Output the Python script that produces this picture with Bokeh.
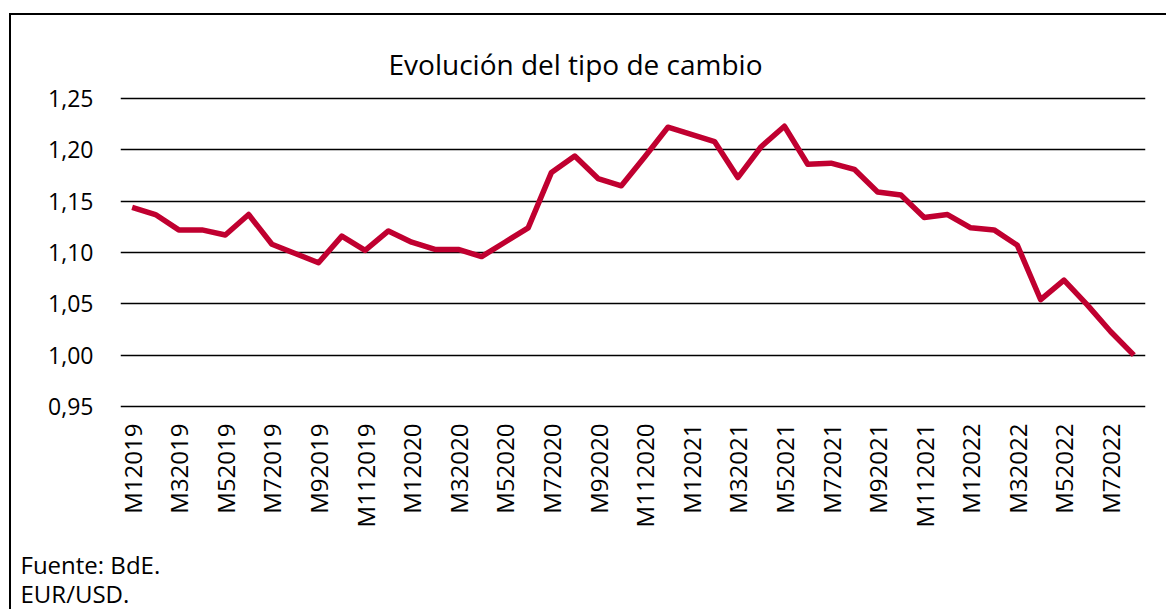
import math
from bokeh.plotting import figure
from bokeh.layouts import column
from bokeh.models import Range1d, FixedTicker, Label
from bokeh.embed import file_html
from bokeh.resources import INLINE

# ---- data ----
months = [
    "M12019", "M22019", "M32019", "M42019", "M52019", "M62019", "M72019", "M82019",
    "M92019", "M102019", "M112019", "M122019",
    "M12020", "M22020", "M32020", "M42020", "M52020", "M62020", "M72020", "M82020",
    "M92020", "M102020", "M112020", "M122020",
    "M12021", "M22021", "M32021", "M42021", "M52021", "M62021", "M72021", "M82021",
    "M92021", "M102021", "M112021", "M122021",
    "M12022", "M22022", "M32022", "M42022", "M52022", "M62022", "M72022", "M82022",
]
eur_usd = [
    1.144, 1.137, 1.122, 1.122, 1.117, 1.137, 1.108, 1.099, 1.090, 1.116, 1.102, 1.121,
    1.110, 1.103, 1.103, 1.096, 1.110, 1.124, 1.178, 1.194, 1.172, 1.165, 1.193, 1.222,
    1.215, 1.208, 1.173, 1.203, 1.223, 1.186, 1.187, 1.181, 1.159, 1.156, 1.134, 1.137,
    1.124, 1.122, 1.107, 1.054, 1.073, 1.049, 1.023, 1.000,
]
y_ticks = [0.95, 1.00, 1.05, 1.10, 1.15, 1.20, 1.25]
y_tick_labels = ["0,95", "1,00", "1,05", "1,10", "1,15", "1,20", "1,25"]
title_text = "Evolución del tipo de cambio"
notes = ["Fuente: BdE.", "EUR/USD."]

FONT = "Open Sans"
positions = list(range(len(months)))

# ---- layout (page pixels) ----
CX, CY = 11, 15            # page position of content (inside the frame border)
W = 1155
FRAME_L, FRAME_R = 120, 1145
FRAME_T, FRAME_B = CY, 409  # frame reaches the top so the title can sit inside it
G_TOP, G_BOT = 98, 406      # pixel rows of the top / bottom gridlines
MAIN_BOTTOM = 545
NOTES_BOTTOM = 609
NOTES_SHIFT = 10.5          # observed downward offset of the notes strip

BL = FRAME_L - CX
FW = FRAME_R - FRAME_L
BR = W - BL - FW
HP = MAIN_BOTTOM - CY
FH = FRAME_B - FRAME_T
BB = HP - FH

x0, x1 = -0.5, len(months) - 0.5
pu = (G_BOT - G_TOP) / (y_ticks[-1] - y_ticks[0])
y_end = y_ticks[-1] + (G_TOP - FRAME_T) / pu
y_start = y_ticks[0] - (FRAME_B - G_BOT) / pu

def px_to_x(px):
    return x0 + (px - FRAME_L) * (x1 - x0) / FW

def py_to_y(py):
    return y_end - (py - FRAME_T) / pu

p = figure(
    width=W, height=HP,
    output_backend="svg", toolbar_location=None,
    x_range=Range1d(x0, x1), y_range=Range1d(y_start, y_end),
    min_border_left=BL, min_border_right=BR, min_border_top=0, min_border_bottom=BB,
    outline_line_color=None, frame_align=False,
)
p.title.visible = False

p.line(positions, eur_usd, line_color="#C00030", line_width=5.5, line_join="round")

# y axis
p.yaxis.ticker = FixedTicker(ticks=y_ticks)
p.yaxis.major_label_overrides = dict(zip(y_ticks, y_tick_labels))
p.yaxis.axis_line_color = None
p.yaxis.major_tick_line_color = None
p.yaxis.minor_tick_line_color = None
p.yaxis.major_tick_out = 0
p.yaxis.major_tick_in = 0
p.yaxis.major_label_standoff = 27
p.yaxis.major_label_text_font = FONT
p.yaxis.major_label_text_font_size = "23px"
p.yaxis.major_label_text_color = "#000000"

# x axis
p.xaxis.ticker = FixedTicker(ticks=positions[::2])
p.xaxis.major_label_overrides = {i: months[i] for i in positions[::2]}
p.xaxis.major_label_orientation = math.pi / 2
p.xaxis.axis_line_color = None
p.xaxis.major_tick_line_color = None
p.xaxis.minor_tick_line_color = None
p.xaxis.major_tick_out = 0
p.xaxis.major_tick_in = 0
p.xaxis.major_label_standoff = 14
p.xaxis.major_label_text_font = FONT
p.xaxis.major_label_text_font_size = "24px"
p.xaxis.major_label_text_color = "#000000"

# grid
p.xgrid.visible = False
p.ygrid.ticker = FixedTicker(ticks=y_ticks)
p.ygrid.grid_line_color = "#000000"
p.ygrid.grid_line_width = 1.6

# chart title (inside the extended frame)
p.add_layout(Label(x=px_to_x(575), y=py_to_y(63.5), text=title_text,
                   text_align="center", text_baseline="alphabetic",
                   text_font=FONT, text_font_size="28px", text_color="#000000"))

# notes strip below the chart
QH = NOTES_BOTTOM - MAIN_BOTTOM
q = figure(
    width=W, height=QH,
    output_backend="svg", toolbar_location=None,
    x_range=Range1d(0, W), y_range=Range1d(0, QH),
    x_axis_type=None, y_axis_type=None,
    min_border=0, outline_line_color=None, frame_align=False,
)
q.title.visible = False
q.xgrid.visible = False
q.ygrid.visible = False
for txt, base in zip(notes, [574.5, 603.0]):
    q.add_layout(Label(x=20 - CX, y=NOTES_BOTTOM - (base - NOTES_SHIFT), text=txt,
                       text_align="left", text_baseline="alphabetic",
                       text_font=FONT, text_font_size="24px", text_color="#000000"))

layout = column(
    p, q, spacing=0,
    styles={
        "margin-left": "9px", "margin-top": "13px",
        "border-left": "2px solid #000", "border-top": "2px solid #000",
    },
)

open("out.html", "w").write(file_html(layout, INLINE))
